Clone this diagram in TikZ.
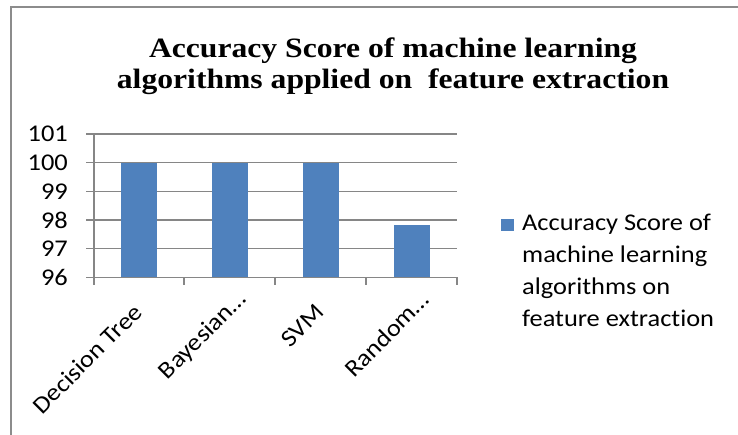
\documentclass[tikz,border=0pt]{standalone}
\usepackage{fontspec}
\setmainfont{Carlito}[FakeStretch=1.1,Ligatures=NoCommon]
\newfontfamily\titlefont[FakeStretch=1.13]{Liberation Serif}
\definecolor{barblue}{HTML}{4F81BD}
\definecolor{gridgray}{HTML}{868686}
\definecolor{framegray}{HTML}{8C8C8C}
\begin{document}
\begin{tikzpicture}[x=1pt,y=-1pt,
  grid/.style={draw=gridgray,line width=1.3pt},
  bar/.style={fill=barblue,draw=none},
  ylab/.style={anchor=east,inner sep=0pt,font=\fontsize{24}{29}\selectfont},
  xlab/.style={anchor=east,rotate=45,inner sep=0pt,font=\fontsize{24}{29}\selectfont},
  leglab/.style={anchor=base west,inner sep=0pt,font=\fontsize{24}{29}\selectfont},
  ttl/.style={anchor=base,inner sep=0pt,font=\titlefont\bfseries\fontsize{28}{33}\selectfont}]
\useasboundingbox (0,0) rectangle (738,435);
\fill[white] (0,0) rectangle (738,435);
\begin{scope}
\clip (0,0) rectangle (738,435);
\draw[framegray,line width=1.5pt] (11,7) rectangle (800,500);
\end{scope}
% title
\node[ttl] (t1) at (393,58) {Accuracy Score of machine learning};
\node[ttl] (t2) at (393,89) {algorithms applied on\ \ feature extraction};
% gridlines and y labels
\foreach \v/\yy in {101/134,100/162.7,99/191.3,98/220,97/248.7,96/277.3}{
  \draw[grid] (86,\yy) -- (457,\yy);
  \node[ylab] (y\v) at (68,\yy) {\v};
}
% bars
\def\ybase{277.3}
\fill[bar] (121,162.7) rectangle (157,\ybase);
\fill[bar] (212,162.7) rectangle (248,\ybase);
\fill[bar] (303,162.7) rectangle (339,\ybase);
\fill[bar] (394,225.3) rectangle (430,\ybase);
% axis and ticks
\draw[grid] (94,134) -- (94,285);
\foreach \xx in {184,275,366,457}{
  \draw[grid] (\xx,277.3) -- (\xx,285);
}
% category labels
\node[xlab] (c1) at (138,308) {Decision Tree};
\node[xlab] (c2) at (243,296) {Bayesian…};
\node[xlab] (c3) at (320,308) {SVM};
\node[xlab] (c4) at (425,296) {Random…};
% legend
\fill[barblue] (501,219) rectangle (514,231);
\node[leglab] (l1) at (522,230.7) {Accuracy Score of};
\node[leglab] (l2) at (522,262.5) {machine learning};
\node[leglab] (l3) at (522,294.5) {algorithms on};
\node[leglab] (l4) at (522,326.5) {feature extraction};
\end{tikzpicture}
\end{document}
